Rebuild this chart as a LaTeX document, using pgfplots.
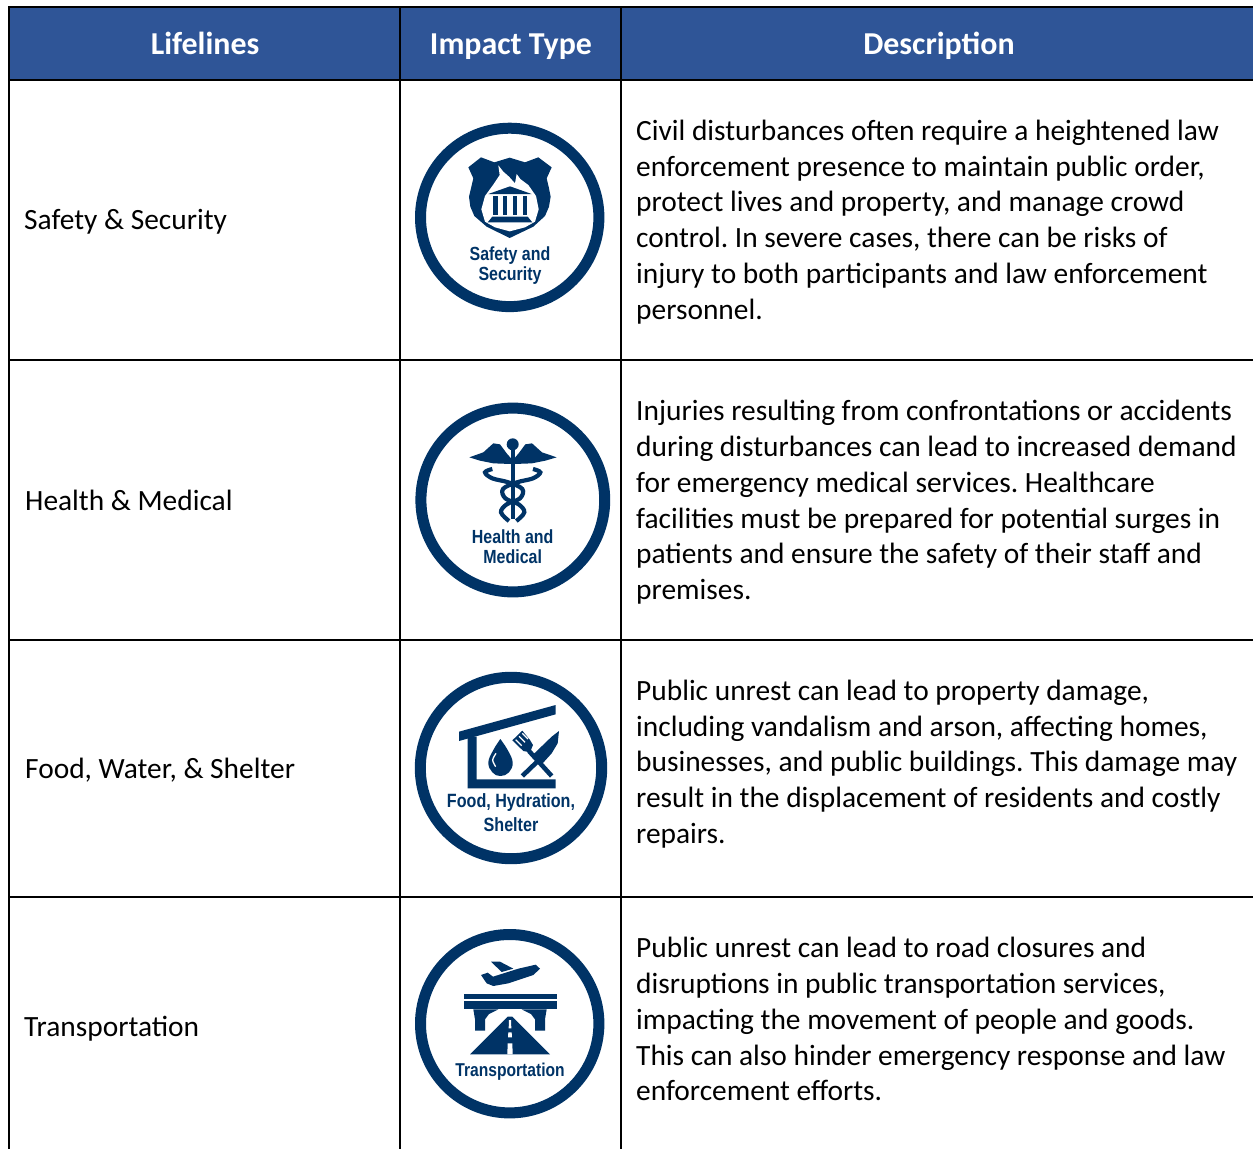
\documentclass[border=0pt]{standalone}
\usepackage{pgfplots}
\pgfplotsset{compat=1.18}
\usepackage{fontspec}
\setmainfont{Carlito}
\newfontfamily\iconfont[FakeStretch=0.84]{Liberation Sans}
\definecolor{hdr}{HTML}{2F5597}
\definecolor{navy}{HTML}{003366}
\frenchspacing
\pgfplotsset{ic/.style 2 args={x filter/.expression={#1+x/3},y filter/.expression={#2+y/3}},
  dk/.style={fill=navy,draw=none,mark=none},
  wt/.style={fill=white,draw=none,mark=none},
  ln/.style={black,line width=2.2pt,mark=none,forget plot}}
\newcommand{\tl}[3]{\node[anchor=base west,inner sep=0pt,yshift=-0.7pt,font=\fontsize{29.4}{32}\selectfont,text=black] at (axis cs:#1,#2) {\frenchspacing #3};}
\newcommand{\hd}[2]{\node[anchor=base,inner sep=0pt,font=\fontsize{31.9}{34}\selectfont\bfseries,text=white] at (axis cs:#1,54) {#2};}
\newcommand{\ict}[4]{\node[anchor=base,inner sep=0pt,text=navy,font=\fontsize{#4}{20}\selectfont\iconfont\bfseries] at (axis cs:#1,#2) {#3};}
\begin{document}
\begin{tikzpicture}
\begin{axis}[scale only axis,width=1253pt,height=1149pt,at={(0pt,0pt)},
  xmin=0,xmax=1253,ymin=0,ymax=1149,y dir=reverse,hide axis,clip=true]
% invisible frame
\addplot[draw=none,mark=none,forget plot] coordinates {(0,0)(1253,1149)};
% header
\addplot[fill=hdr,draw=none,mark=none] coordinates {(9,7)(1253,7)(1253,80)(9,80)} -- cycle;
% grid
\addplot[ln] coordinates {(9,7)(1253,7)};
\addplot[ln] coordinates {(9,80)(1253,80)};
\addplot[ln] coordinates {(9,360)(1253,360)};
\addplot[ln] coordinates {(9,640)(1253,640)};
\addplot[ln] coordinates {(9,897)(1253,897)};
\addplot[ln] coordinates {(9,6)(9,1149)};
\addplot[ln] coordinates {(400,6)(400,1149)};
\addplot[ln] coordinates {(621,6)(621,1149)};
% headers
\hd{205}{Lifelines}
\hd{511}{Impact Type}
\hd{939}{Description}
% first column
\tl{24}{229}{Safety \& Security}
\tl{25}{510}{Health \& Medical}
\tl{25}{778}{Food, Water, \& Shelter}
\tl{24}{1036}{Transportation}
% descriptions
\tl{636}{140}{Civil disturbances often require a heightened law}
\tl{636}{176}{enforcement presence to maintain public order,}
\tl{636}{211}{protect lives and property, and manage crowd}
\tl{636}{247}{control. In severe cases, there can be risks of}
\tl{636}{283}{injury to both participants and law enforcement}
\tl{636}{319}{personnel.}
\tl{636}{420}{Injuries resulting from confrontations or accidents}
\tl{636}{456}{during disturbances can lead to increased demand}
\tl{636}{492}{for emergency medical services. Healthcare}
\tl{636}{528}{facilities must be prepared for potential surges in}
\tl{636}{563}{patients and ensure the safety of their staff and}
\tl{636}{599}{premises.}
\tl{636}{700}{Public unrest can lead to property damage,}
\tl{636}{736}{including vandalism and arson, affecting homes,}
\tl{636}{771}{businesses, and public buildings. This damage may}
\tl{636}{807}{result in the displacement of residents and costly}
\tl{636}{843}{repairs.}
\tl{636}{957}{Public unrest can lead to road closures and}
\tl{636}{993}{disruptions in public transportation services,}
\tl{636}{1029}{impacting the movement of people and goods.}
\tl{636}{1065}{This can also hinder emergency response and law}
\tl{636}{1100}{enforcement efforts.}
% rings
\draw[navy,line width=11pt] (axis cs:509.7,217.4) circle[radius=89.2];
\draw[navy,line width=11pt] (axis cs:512.8,500) circle[radius=91.9];
\draw[navy,line width=11pt] (axis cs:511,768) circle[radius=90.7];
\draw[navy,line width=11pt] (axis cs:509.7,1023.7) circle[radius=89.2];
% ---- icon 1: shield
\addplot[dk,ic={405}{110}] coordinates {(190,172)(228,142)(268,157)(314,143)(360,157)(400,142)(440,172)(425,205)(432,235)(437,260)(432,290)(420,318)(385,350)(314,384)(245,350)(208,318)(196,290)(192,260)(198,235)(205,205)} -- cycle;
\addplot[wt,ic={405}{110}] coordinates {(280,166)(284,195)(264,225)(240,258)(229,298)(240,335)(270,352)(314,364)(360,352)(390,335)(401,298)(393,258)(370,225)(346,207)(335,192)(330,220)(312,200)(295,185)} -- cycle;
\addplot[dk,ic={405}{110}] coordinates {(250,252)(315,229)(380,252)} -- cycle;
\addplot[dk,ic={405}{110}] coordinates {(263,258)(279,258)(279,316)(263,316)} -- cycle;
\addplot[dk,ic={405}{110}] coordinates {(293,258)(307,258)(307,316)(293,316)} -- cycle;
\addplot[dk,ic={405}{110}] coordinates {(323,258)(337,258)(337,316)(323,316)} -- cycle;
\addplot[dk,ic={405}{110}] coordinates {(353,258)(367,258)(367,316)(353,316)} -- cycle;
\addplot[dk,ic={405}{110}] coordinates {(248,337)(262,320)(368,320)(382,337)} -- cycle;
\ict{510}{260}{Safety and}{19}
\ict{510}{280}{Security}{19}
% ---- icon 2: caduceus
\addplot[dk,ic={405}{395}] coordinates {(193,187)(235,172)(265,145)(285,148)(305,175)(318,190)(318,207)(265,205)(225,197)} -- cycle;
\addplot[dk,ic={405}{395}] coordinates {(455,187)(411,172)(381,145)(361,148)(341,175)(328,190)(328,207)(381,205)(421,197)} -- cycle;
\addplot[dk,ic={405}{395}] coordinates {(317,160)(329,160)(329,372)(317,372)} -- cycle;
\draw[fill=navy,draw=none] (axis cs:512.7,444.3) circle[radius=6];
\addplot[navy,line width=4.2pt,mark=none,smooth,tension=0.6,ic={405}{395}] coordinates {(262,222)(240,232)(262,250)(310,262)(352,282)(345,310)(305,328)(288,352)(312,378)};
\addplot[navy,line width=4.2pt,mark=none,smooth,tension=0.6,ic={405}{395}] coordinates {(384,222)(406,232)(384,250)(336,262)(294,282)(301,310)(341,328)(358,352)(334,378)};
\ict{512.7}{543}{Health and}{19}
\ict{512.7}{563}{Medical}{19}
% ---- icon 3: shelter
\addplot[dk,ic={405}{665}] coordinates {(162,200)(452,120)(452,148)(162,228)} -- cycle;
\addplot[dk,ic={405}{665}] coordinates {(188,215)(215,215)(215,343)(452,343)(452,370)(188,370)} -- cycle;
\addplot[dk,smooth,tension=0.7,ic={405}{665}] coordinates {(286,222)(265,255)(250,292)(262,322)(286,333)(312,322)(323,292)(308,255)(286,222)} -- cycle;
\addplot[white,line width=1.3pt,mark=none,smooth,ic={405}{665}] coordinates {(273,265)(263,285)(272,305)};
\addplot[navy,line width=4.6pt,mark=none,ic={405}{665}] coordinates {(372,258)(440,333)};
\addplot[dk,ic={405}{665}] coordinates {(322,226)(352,197)(375,225)(384,240)(375,262)(355,258)} -- cycle;
\addplot[white,line width=1.2pt,mark=none,ic={405}{665}] coordinates {(332,224)(350,242)};
\addplot[white,line width=1.2pt,mark=none,ic={405}{665}] coordinates {(342,214)(360,232)};
\addplot[white,line width=1.2pt,mark=none,ic={405}{665}] coordinates {(352,205)(369,222)};
\addplot[navy,line width=4.6pt,mark=none,ic={405}{665}] coordinates {(352,333)(405,282)};
\addplot[dk,ic={405}{665}] coordinates {(385,268)(440,215)(462,198)(458,235)(440,265)(412,296)} -- cycle;
\ict{511}{807}{Food, Hydration,}{19.2}
\ict{511}{831}{Shelter}{19.2}
% ---- icon 4: transport
\addplot[dk,ic={405}{920}] coordinates {(228,165)(248,158)(264,170)(340,146)(392,134)(405,146)(385,165)(310,190)(265,198)(245,190)} -- cycle;
\addplot[dk,ic={405}{920}] coordinates {(258,125)(285,125)(325,146)(290,156)} -- cycle;
\addplot[dk,ic={405}{920}] coordinates {(176,222)(455,222)(455,238)(176,238)} -- cycle;
\addplot[dk,ic={405}{920}] coordinates {(176,244)(455,244)(455,268)(176,268)} -- cycle;
\addplot[dk,ic={405}{920}] coordinates {(205,268)(280,268)(252,282)(240,298)(240,332)(210,332)(210,298)} -- cycle;
\addplot[dk,ic={405}{920}] coordinates {(425,268)(350,268)(378,282)(390,298)(390,332)(420,332)(420,298)} -- cycle;
\addplot[dk,ic={405}{920}] coordinates {(195,403)(308,290)(322,290)(435,403)} -- cycle;
\addplot[wt,ic={405}{920}] coordinates {(312,300)(318,300)(319,325)(311,325)} -- cycle;
\addplot[wt,ic={405}{920}] coordinates {(310,337)(320,337)(321,352)(309,352)} -- cycle;
\addplot[wt,ic={405}{920}] coordinates {(308,370)(322,370)(323,403)(307,403)} -- cycle;
\ict{510}{1076}{Transportation}{18.6}
\end{axis}
\end{tikzpicture}
\end{document}
